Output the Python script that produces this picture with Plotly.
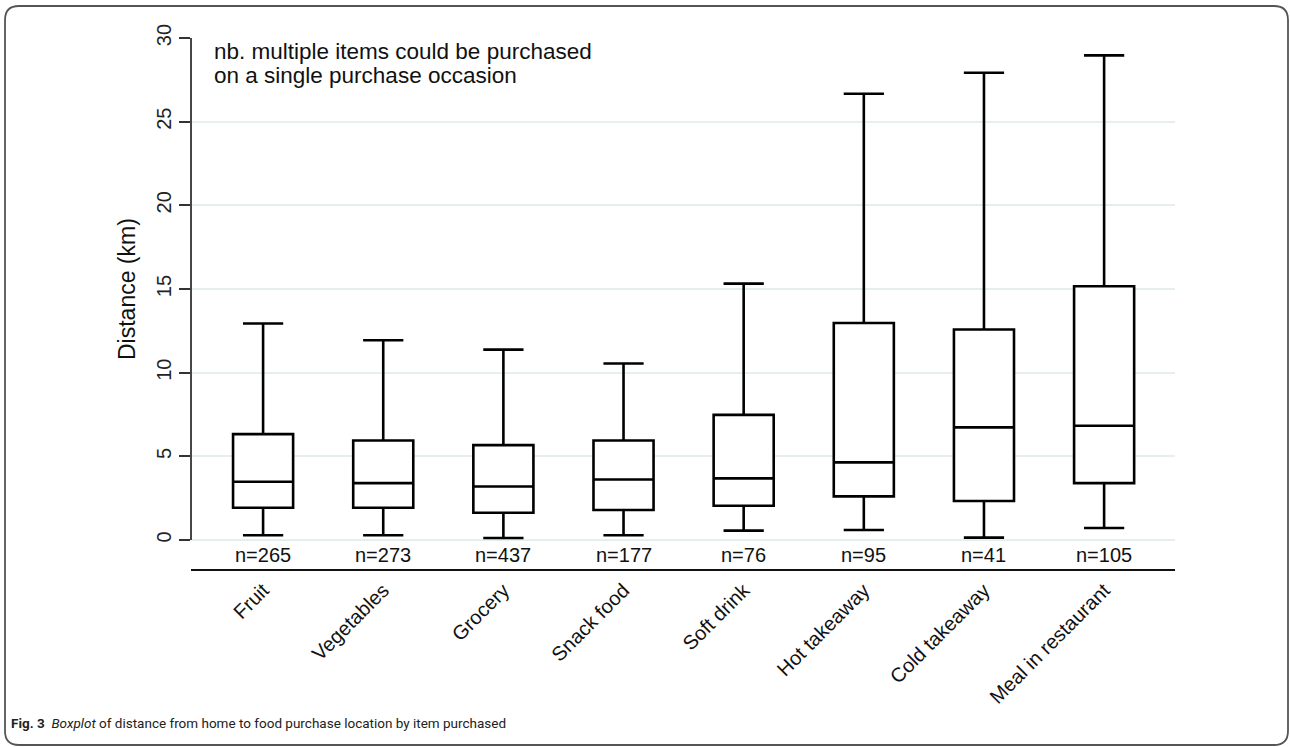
import plotly.graph_objects as go

categories = ["Fruit", "Vegetables", "Grocery", "Snack food", "Soft drink",
              "Hot takeaway", "Cold takeaway", "Meal in restaurant"]
lower_whisker = [0.28, 0.28, 0.12, 0.28, 0.56, 0.60, 0.14, 0.72]
q1_values = [1.93, 1.93, 1.63, 1.79, 2.05, 2.61, 2.33, 3.40]
medians = [3.48, 3.40, 3.20, 3.62, 3.68, 4.64, 6.73, 6.83]
q3_values = [6.33, 5.95, 5.67, 5.95, 7.48, 12.97, 12.58, 15.16]
upper_whisker = [12.94, 11.94, 11.38, 10.55, 15.32, 26.67, 27.92, 28.96]
n_labels = ["n=265", "n=273", "n=437", "n=177", "n=76", "n=95", "n=41", "n=105"]
note_lines = ["nb. multiple items could be purchased", "on a single purchase occasion"]
y_ticks = [0, 5, 10, 15, 20, 25, 30]

W, H = 1290, 747
L, R, T, B = 191, 1175, 38, 569
PW, PH = R - L, B - T
FONT = "Liberation Sans"


def px(x):
    return (x - L) / PW


def py(y):
    return (B - y) / PH


fig = go.Figure()
fig.add_trace(go.Box(
    x=categories,
    q1=q1_values,
    median=medians,
    q3=q3_values,
    lowerfence=lower_whisker,
    upperfence=upper_whisker,
    width=0.5,
    whiskerwidth=0.67,
    boxpoints=False,
    fillcolor="white",
    line=dict(color="black", width=2.6),
    showlegend=False,
    hoverinfo="skip",
))

annotations = []
for c, n in zip(categories, n_labels):
    annotations.append(dict(x=c, y=-0.9, xref="x", yref="y", text=n, showarrow=False,
                            font=dict(family=FONT, size=20, color="#111"),
                            xanchor="center", yanchor="middle"))

for i, line in enumerate(note_lines):
    annotations.append(dict(
        x=px(212), y=py(51 + 24.5 * i), xref="paper", yref="paper",
        text=line, showarrow=False, xanchor="left", yanchor="middle",
        font=dict(family=FONT, size=22.5, color="#111"),
    ))
annotations.append(dict(
    x=px(127), y=15, xref="paper", yref="y", text="Distance (km)",
    textangle=-90, showarrow=False, xanchor="center", yanchor="middle",
    font=dict(family=FONT, size=23, color="#111"),
))
annotations.append(dict(
    x=px(9), y=py(723), xref="paper", yref="paper",
    text="<b>Fig. 3</b>  <i>Boxplot</i> of distance from home to food purchase location by item purchased",
    showarrow=False, xanchor="left", yanchor="middle",
    font=dict(family="Roboto", size=13.5, color="#222"),
))

# rounded outer border
x0, y0, x1, y1, r = 5, 6, 1288, 745, 14
path = (
    f"M {px(x0 + r)},{py(y0)} L {px(x1 - r)},{py(y0)} "
    f"Q {px(x1)},{py(y0)} {px(x1)},{py(y0 + r)} "
    f"L {px(x1)},{py(y1 - r)} Q {px(x1)},{py(y1)} {px(x1 - r)},{py(y1)} "
    f"L {px(x0 + r)},{py(y1)} Q {px(x0)},{py(y1)} {px(x0)},{py(y1 - r)} "
    f"L {px(x0)},{py(y0 + r)} Q {px(x0)},{py(y0)} {px(x0 + r)},{py(y0)} Z"
)
shapes = [
    dict(type="path", xref="paper", yref="paper", path=path,
         line=dict(color="#555", width=1.8)),
    dict(type="line", xref="paper", yref="y", x0=0, x1=0, y0=0, y1=30,
         line=dict(color="#333", width=1.8)),
]

fig.update_layout(
    width=W, height=H,
    margin=dict(l=L, r=W - R, t=T, b=H - B, pad=0),
    paper_bgcolor="white", plot_bgcolor="white",
    annotations=annotations, shapes=shapes,
    xaxis=dict(
        type="category", range=[-0.6, 7.59],
        showline=True, linecolor="#111", linewidth=1.6,
        ticks="", tickangle=-45, showgrid=False, zeroline=False,
        tickfont=dict(family=FONT, size=20, color="#111"),
    ),
    yaxis=dict(
        range=[-1.733, 30], tickvals=y_ticks, ticktext=[str(v) for v in y_ticks],
        showline=False, ticks="outside", ticklen=11, tickwidth=1.6, tickcolor="#333",
        tickangle=-90, showgrid=True, gridcolor="#e6efef", gridwidth=2, zeroline=False,
        tickfont=dict(family=FONT, size=20, color="#222"),
    ),
)

fig.write_html("out.html")
